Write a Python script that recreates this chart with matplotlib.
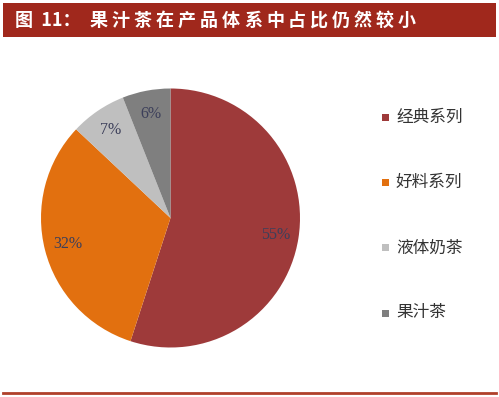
import matplotlib.pyplot as plt
from matplotlib.patches import Rectangle
from matplotlib.lines import Line2D

plt.rcParams['font.family'] = ['Noto Sans CJK SC', 'DejaVu Sans']

# data
categories = ['经典系列', '好料系列', '液体奶茶', '果汁茶']
shares = [55, 32, 7, 6]
colors = ['#9E3A3A', '#E2700F', '#BFBFBF', '#7F7F7F']
title_head = '图  11：'
title_body = '果汁茶在产品体系中占比仍然较小'

fig = plt.figure(figsize=(4.99, 3.97), dpi=100)

# title bar
fig.patches.append(Rectangle((3 / 499, 1 - 37 / 397), 493 / 499, 34 / 397,
                             transform=fig.transFigure, facecolor='#A0281C',
                             edgecolor='none'))
fig.text(15 / 499, 1 - 20 / 397, title_head, color='white', fontsize=13,
         fontweight='bold', va='center', ha='left')
# wide letter spacing in the title, one glyph per position
for i, ch in enumerate(title_body):
    fig.text((90 + i * 22) / 499, 1 - 20 / 397, ch, color='white', fontsize=13,
             fontweight='bold', va='center', ha='left')

# bottom line
fig.lines.append(Line2D([3 / 499, 496 / 499], [1 - 393 / 397, 1 - 393 / 397],
                        transform=fig.transFigure, color='#B0402A', lw=2))

# pie: center ~ (170, 218), radius ~ 129.5 px
r = 129.5
ax = fig.add_axes([(170.5 - r) / 499, 1 - (218 + r) / 397, 2 * r / 499, 2 * r / 397])
wedges, texts, autotexts = ax.pie(shares, colors=colors, startangle=90,
                                  counterclock=False, autopct='%d%%',
                                  pctdistance=0.82, radius=1,
                                  textprops=dict(family='Liberation Serif',
                                                 fontsize=11.5, color='#3C3F5A'))
ax.set_xlim(-1, 1)
ax.set_ylim(-1, 1)
ax.set_aspect('auto')

# legend
leg_y = [117, 182, 248, 313]
for name, c, y in zip(categories, colors, leg_y):
    fig.patches.append(Rectangle((382 / 499, 1 - (y + 3.5) / 397), 7 / 499, 7 / 397,
                                 transform=fig.transFigure, facecolor=c,
                                 edgecolor='none'))
    fig.text(396 / 499, 1 - y / 397, name, fontsize=12, color='#333333',
             va='center', ha='left')

plt.savefig('out.png', dpi=100)
